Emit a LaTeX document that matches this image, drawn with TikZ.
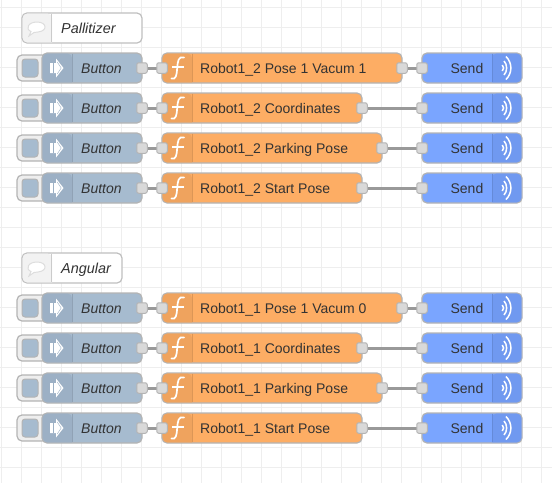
\documentclass[tikz,border=0pt]{standalone}
\usepackage{fontspec}
\setmainfont{Liberation Sans}
\usetikzlibrary{backgrounds}
\definecolor{gridc}{HTML}{EEEEEE}
\definecolor{edgec}{HTML}{B4B4B4}
\definecolor{wirec}{HTML}{999999}
\definecolor{portc}{HTML}{D9D9D9}
\definecolor{btnc}{HTML}{A6BBCF}
\definecolor{btnd}{HTML}{9CB0C5}
\definecolor{fnc}{HTML}{FDAD64}
\definecolor{fnd}{HTML}{EFA35E}
\definecolor{sendc}{HTML}{7AA5FF}
\definecolor{sendd}{HTML}{7099F0}
\definecolor{txtc}{HTML}{333333}
\definecolor{combg}{HTML}{F2F2F2}
\pgfdeclarelayer{gridlayer}
\pgfdeclarelayer{wirelayer}
\pgfsetlayers{gridlayer,wirelayer,main}
\tikzset{
  x=1pt,y=-1pt,
  flowbody/.style={draw=edgec,line width=1.2pt,rounded corners=5pt,minimum height=30pt,inner sep=0pt,anchor=west,outer sep=0pt},
  portnode/.style={draw=edgec,fill=portc,line width=1pt,rounded corners=2pt,minimum size=10.5pt,inner sep=0pt,outer sep=0pt},
  wire/.style={draw=wirec,line width=3pt},
  lab/.style={font=\fontsize{14}{16}\selectfont,text=txtc,inner sep=0pt,anchor=base west},
  ilab/.style={lab,font=\fontsize{14}{16}\selectfont\itshape},
  clab/.style={lab,font=\fontsize{14.4}{16}\selectfont\itshape},
  rlab/.style={lab,anchor=base east},
  divider/.style={line width=.8pt},
  iconw/.style={fill=white,draw=none},
}
\newcommand{\btn}[2]{% id, y
  \node[flowbody,draw=edgec,fill=gridc,minimum width=30pt,minimum height=26pt] (tab#1) at (17,#2) {};
  \node[draw=edgec,fill=btnc,line width=1pt,rounded corners=3pt,minimum width=16pt,minimum height=18pt,inner sep=0pt] (sq#1) at (30,#2) {};
  \node[flowbody,fill=btnc,minimum width=100pt] (b#1) at (42,#2) {};
  \fill[btnd,rounded corners=4.5pt] (42.6,#2-14.4) -- (72,#2-14.4) [sharp corners] -- (72,#2+14.4) [rounded corners=4.5pt] -- (42.6,#2+14.4) -- cycle;
  \draw[divider,draw=btnd!92!black] (72,#2-14.4) -- (72,#2+14.4);
  \fill[iconw] (50,#2-5) -- (56,#2-5) -- (56,#2-9.5) -- (63.5,#2) -- (56,#2+9.5) -- (56,#2+5) -- (50,#2+5) -- cycle;
  \draw[btnd,line width=.45pt] (53,#2-5) -- (53,#2+5);
  \draw[btnd,line width=.45pt] (57.2,#2-6) -- (61.2,#2) -- (57.2,#2+6);
  \node[ilab] (bl#1) at (81,#2+5) {Button};
  \node[portnode] (bp#1) at (142,#2) {};
}
\newcommand{\fnnode}[4]{% id, y, label, right x
  \pgfmathsetmacro{\fw}{#4-162}
  \node[flowbody,fill=fnc,minimum width=\fw pt] (f#1) at (162,#2) {};
  \fill[fnd,rounded corners=4.5pt] (162.6,#2-14.4) -- (192,#2-14.4) [sharp corners] -- (192,#2+14.4) [rounded corners=4.5pt] -- (162.6,#2+14.4) -- cycle;
  \draw[divider,draw=fnd!92!black] (192,#2-14.4) -- (192,#2+14.4);
  \draw[white,line width=1.7pt,line cap=round] (171.5,#2+10.5) .. controls (176,#2+12) and (176.7,#2+7) .. (177.2,#2) .. controls (177.7,#2-7) and (178.4,#2-12) .. (184,#2-10.5);
  \draw[white,line width=1.4pt] (172,#2-1) -- (183.5,#2-1);
  \node[lab] (fl#1) at (200,#2+5) {#3};
  \node[portnode] (fi#1) at (162,#2) {};
  \node[portnode] (fo#1) at (#4,#2) {};
}
\newcommand{\sendnode}[2]{% id, y
  \node[flowbody,fill=sendc,minimum width=100pt] (s#1) at (422,#2) {};
  \fill[sendd,rounded corners=4.5pt] (521.4,#2-14.4) -- (492,#2-14.4) [sharp corners] -- (492,#2+14.4) [rounded corners=4.5pt] -- (521.4,#2+14.4) -- cycle;
  \draw[divider,draw=sendd!90!black] (492,#2-14.4) -- (492,#2+14.4);
  \draw[white,line width=1.5pt] (502.3,#2-3) .. controls (504,#2-1.5) and (504,#2+1.5) .. (502.3,#2+3);
  \draw[white,line width=1.5pt] (504,#2-7) .. controls (507.5,#2-3.5) and (507.5,#2+3.5) .. (504,#2+7);
  \draw[white,line width=1.5pt] (506,#2-11.5) .. controls (512.5,#2-5) and (512.5,#2+5) .. (506,#2+11.5);
  \node[rlab] (sl#1) at (483.5,#2+5) {Send};
  \node[portnode] (si#1) at (422,#2) {};
}
\newcommand{\flowrow}[4]{% id, y, label, right x
  \btn{#1}{#2}
  \fnnode{#1}{#2}{#3}{#4}
  \sendnode{#1}{#2}
  \begin{pgfonlayer}{wirelayer}
    \draw[wire] (bp#1.center) -- (fi#1.center);
    \draw[wire] (fo#1.center) -- (si#1.center);
  \end{pgfonlayer}
}
\newcommand{\commentnode}[4]{% id, y, label, right x
  \pgfmathsetmacro{\cw}{#4-22}
  \node[flowbody,draw=edgec!85!white,fill=white,minimum width=\cw pt] (c#1) at (22,#2) {};
  \fill[combg,rounded corners=4.5pt] (22.6,#2-14.4) -- (52,#2-14.4) [sharp corners] -- (52,#2+14.4) [rounded corners=4.5pt] -- (22.6,#2+14.4) -- cycle;
  \draw[divider,draw=edgec!70!white] (51.7,#2-14.4) -- (51.7,#2+14.4);
  \draw[draw=edgec!45!white,line width=1pt,fill=white] (29,#2+8) -- (31,#2+3.5) .. controls (25,#2+1) and (28,#2-6) .. (37,#2-6) .. controls (47,#2-6) and (48,#2+3) .. (38,#2+4) -- (34,#2+4.5) -- cycle;
  \node[clab] (cl#1) at (61,#2+5) {#3};
}
\begin{document}
\begin{tikzpicture}
\useasboundingbox (0,0) rectangle (552,483);
\begin{pgfonlayer}{gridlayer}
  \fill[white] (0,0) rectangle (552,483);
  \foreach \gx in {1.7,21.7,...,545}
    \draw[gridc,line width=1pt] (\gx,0) -- (\gx,483);
  \foreach \gy in {7.3,27.3,...,480}
    \draw[gridc,line width=1pt] (0,\gy) -- (552,\gy);
\end{pgfonlayer}
\commentnode{a}{28}{Pallitizer}{142}
\flowrow{a}{68}{Robot1\_2 Pose 1 Vacum 1}{402}
\flowrow{b}{108}{Robot1\_2 Coordinates}{362}
\flowrow{c}{148}{Robot1\_2 Parking Pose}{382}
\flowrow{d}{188}{Robot1\_2 Start Pose}{362}
\commentnode{b}{268}{Angular}{122}
\flowrow{e}{308}{Robot1\_1 Pose 1 Vacum 0}{402}
\flowrow{f}{348}{Robot1\_1 Coordinates}{362}
\flowrow{g}{388}{Robot1\_1 Parking Pose}{382}
\flowrow{h}{428}{Robot1\_1 Start Pose}{362}
\end{tikzpicture}
\end{document}
